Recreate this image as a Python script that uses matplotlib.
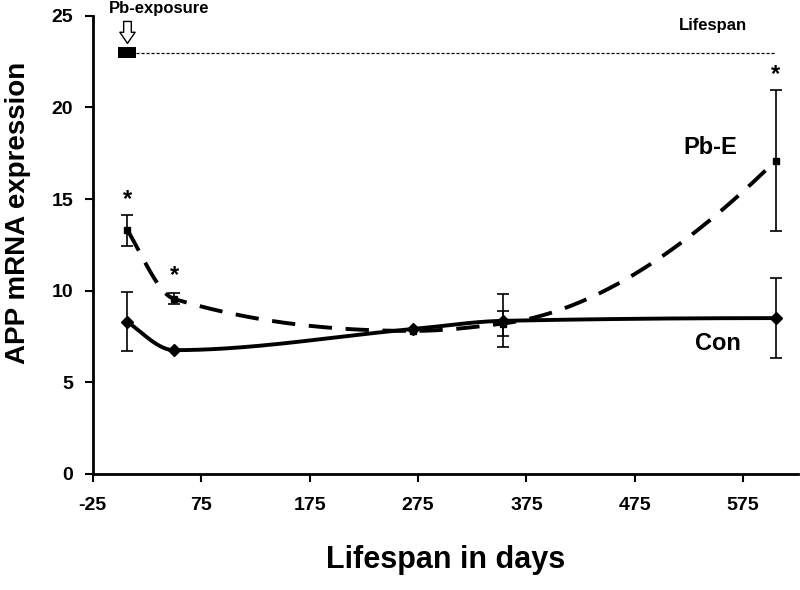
import numpy as np
import matplotlib
matplotlib.use('Agg')
import matplotlib.pyplot as plt

plt.rcParams['font.family'] = ['Liberation Sans', 'DejaVu Sans']
plt.rcParams['font.weight'] = 'bold'
plt.rcParams['axes.unicode_minus'] = False

# data
con_days = [7, 50, 270, 353, 605]
con_vals = [8.3, 6.75, 7.9, 8.35, 8.5]
con_err = [1.6, np.nan, np.nan, 1.45, 2.2]

pbe_days = [7, 50, 270, 353, 605]
pbe_vals = [13.3, 9.55, 7.8, 8.2, 17.1]
pbe_err = [0.85, 0.3, np.nan, 0.7, 3.85]

star_days = [7, 50, 605]
star_vals = [15.0, 10.8, 21.8]

exposure_days = [-2, 15]
lifespan_level = 23.0
lifespan_end = 605

xticks = [-25, 75, 175, 275, 375, 475, 575]
yticks = [0, 5, 10, 15, 20, 25]


def pchip(x, y, xs):
    # monotone cubic through the points, for drawing the smooth curve
    x = np.asarray(x, float)
    y = np.asarray(y, float)
    h = np.diff(x)
    d = np.diff(y) / h
    m = np.zeros_like(y)
    for k in range(1, len(x) - 1):
        if d[k - 1] * d[k] > 0:
            w1 = 2 * h[k] + h[k - 1]
            w2 = h[k] + 2 * h[k - 1]
            m[k] = (w1 + w2) / (w1 / d[k - 1] + w2 / d[k])
    m[0] = ((2 * h[0] + h[1]) * d[0] - h[0] * d[1]) / (h[0] + h[1])
    if np.sign(m[0]) != np.sign(d[0]):
        m[0] = 0
    m[-1] = ((2 * h[-1] + h[-2]) * d[-1] - h[-1] * d[-2]) / (h[-1] + h[-2])
    if np.sign(m[-1]) != np.sign(d[-1]):
        m[-1] = 0
    i = np.clip(np.searchsorted(x, xs) - 1, 0, len(x) - 2)
    t = (xs - x[i]) / h[i]
    h00 = 2 * t**3 - 3 * t**2 + 1
    h10 = t**3 - 2 * t**2 + t
    h01 = -2 * t**3 + 3 * t**2
    h11 = t**3 - t**2
    return h00 * y[i] + h10 * h[i] * m[i] + h01 * y[i + 1] + h11 * h[i] * m[i + 1]


fig = plt.figure(figsize=(8, 5.9), dpi=100)
ax = fig.add_axes([0.116, 0.197, 0.882, 0.776])

xs = np.linspace(con_days[0], con_days[-1], 600)
ax.plot(xs, pchip(con_days, con_vals, xs), color='black', lw=2.8, solid_capstyle='round')
ax.plot(xs, pchip(pbe_days, pbe_vals, xs), color='black', lw=2.8, dashes=(6, 3.5))

ax.errorbar(con_days, con_vals, yerr=con_err, fmt='D', color='black', ms=6,
            capsize=4.5, elinewidth=1.2, capthick=1.2)
ax.errorbar(pbe_days, pbe_vals, yerr=pbe_err, fmt='s', color='black', ms=5,
            capsize=4.5, elinewidth=1.2, capthick=1.2)

for d, v in zip(star_days, star_vals):
    ax.text(d, v, '*', ha='center', va='center', fontsize=17, fontweight='bold')

# exposure bar and lifespan line
ax.fill_between(exposure_days, lifespan_level - 0.3, lifespan_level + 0.3, color='black', lw=0)
ax.plot([exposure_days[1], lifespan_end], [lifespan_level, lifespan_level],
        color='black', lw=0.9, dashes=(2.5, 1.5))
ax.annotate('', xy=(7, lifespan_level + 0.35), xytext=(7, 24.85),
            arrowprops=dict(arrowstyle='simple,head_width=1.1,head_length=0.8,tail_width=0.55',
                            fc='white', ec='black', lw=1.0), annotation_clip=False)
ax.text(36, 25.4, 'Pb-exposure', ha='center', va='center', fontsize=12, fontweight='bold')
ax.text(547, 24.5, 'Lifespan', ha='center', va='center', fontsize=12, fontweight='bold')
ax.text(545, 17.8, 'Pb-E', ha='center', va='center', fontsize=17, fontweight='bold')
ax.text(552, 7.1, 'Con', ha='center', va='center', fontsize=17, fontweight='bold')

ax.set_xlim(-25, 626)
ax.set_ylim(0, 25)
ax.set_xticks(xticks)
ax.set_yticks(yticks)
ax.tick_params(axis='both', labelsize=14, width=1.5, length=6, direction='out')
ax.tick_params(axis='x', pad=11)
ax.tick_params(axis='y', pad=8)
for lab in ax.get_xticklabels() + ax.get_yticklabels():
    lab.set_fontweight('bold')
ax.spines['top'].set_visible(False)
ax.spines['right'].set_visible(False)
ax.spines['left'].set_linewidth(2)
ax.spines['bottom'].set_linewidth(2)

ax.set_xlabel('Lifespan in days', fontsize=22, fontweight='bold', labelpad=22)
ax.set_ylabel('APP mRNA expression', fontsize=20, fontweight='bold')
ax.yaxis.set_label_coords(-0.088, 0.57)

fig.savefig('out.png', dpi=100)
